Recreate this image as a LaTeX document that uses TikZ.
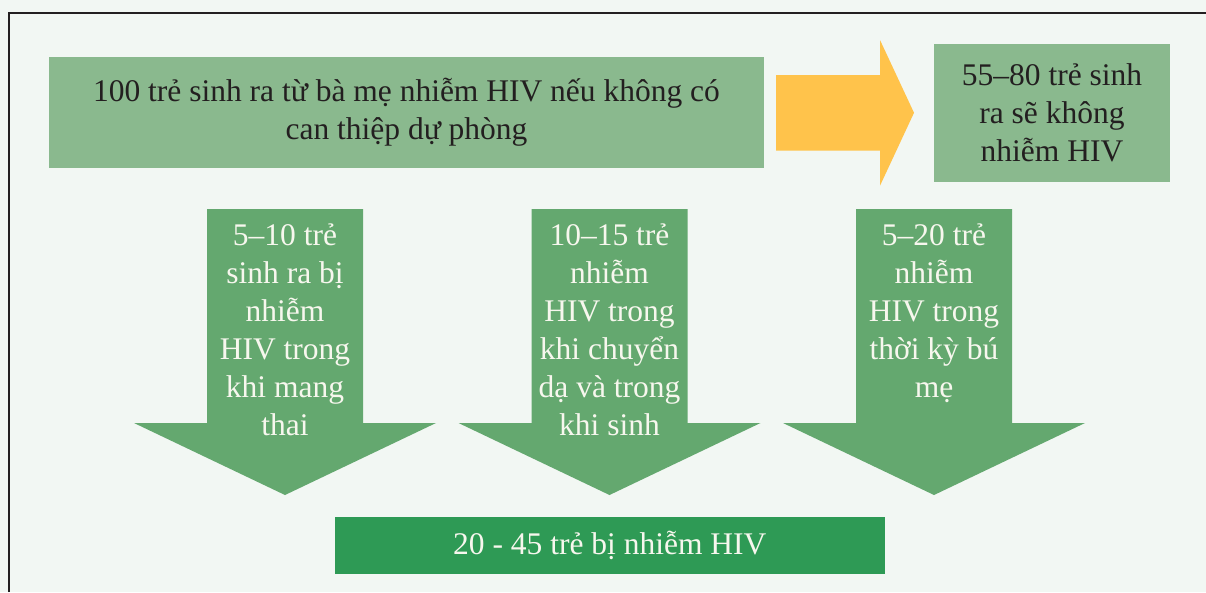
\documentclass[tikz,border=0pt]{standalone}
\usepackage{fontspec}
\setmainfont{Liberation Serif}
\usepackage{tikz}

\definecolor{pagebg}{HTML}{F2F7F3}
\definecolor{boxgreen}{HTML}{8AB98E}
\definecolor{arrowgreen}{HTML}{64A86F}
\definecolor{darkgreen}{HTML}{2E9A55}
\definecolor{arrowyellow}{HTML}{FFC34B}
\definecolor{inkdark}{HTML}{231F20}
\definecolor{inklight}{HTML}{F7F7EE}

\begin{document}
\begin{tikzpicture}[x=1pt,y=-1pt]
    \tikzstyle{every node}+=[inner sep=0pt]
    \tikzstyle{box}=[fill=boxgreen, text=inkdark, align=center, font=\fontsize{31.5}{38}\selectfont]
    \tikzstyle{arrowtext}=[text=inklight, align=center, anchor=base, font=\fontsize{31.5}{38}\selectfont]
    \useasboundingbox (0,0) rectangle (1206,592);
    \fill [pagebg] (0,0) rectangle (1206,592);
    \draw [inkdark, line width=2pt] (8.5,592) -- (8.5,12.8) -- (1206,12.8);
    % top row
    \node (born) [box, minimum width=715, minimum height=111] at (406.5,112.5)
        {100 trẻ sinh ra từ bà mẹ nhiễm HIV nếu không có\\can thiệp dự phòng};
    \fill [arrowyellow] (776,75) -- (880,75) -- (880,40) -- (914,112.8)
        -- (880,185.7) -- (880,150.7) -- (776,150.7) -- cycle;
    \node (safe) [box, minimum width=236, minimum height=137.5] at (1052,112.8)
        {55–80 trẻ sinh\\ra sẽ không\\nhiễm HIV};
    % down arrows
    \foreach \cx in {285,609.5,934}
        \fill [arrowgreen] (\cx-78,209) -- (\cx+78,209) -- (\cx+78,423) -- (\cx+151,423)
            -- (\cx,495) -- (\cx-151,423) -- (\cx-78,423) -- cycle;
    % base = baseline of the last line
    \node (pregnancy) [arrowtext] at (285,435)
        {5–10 trẻ\\sinh ra bị\\nhiễm\\HIV trong\\khi mang\\thai};
    \node (delivery) [arrowtext] at (609.5,435)
        {10–15 trẻ\\nhiễm\\HIV trong\\khi chuyển\\dạ và trong\\khi sinh};
    \node (breastfeed) [arrowtext] at (934,397)
        {5–20 trẻ\\nhiễm\\HIV trong\\thời kỳ bú\\mẹ};
    % result
    \node (infected) [fill=darkgreen, text=inklight, minimum width=550, minimum height=57,
        font=\fontsize{31.5}{38}\selectfont] at (609.8,545.3) {20 - 45 trẻ bị nhiễm HIV};
\end{tikzpicture}
\end{document}
